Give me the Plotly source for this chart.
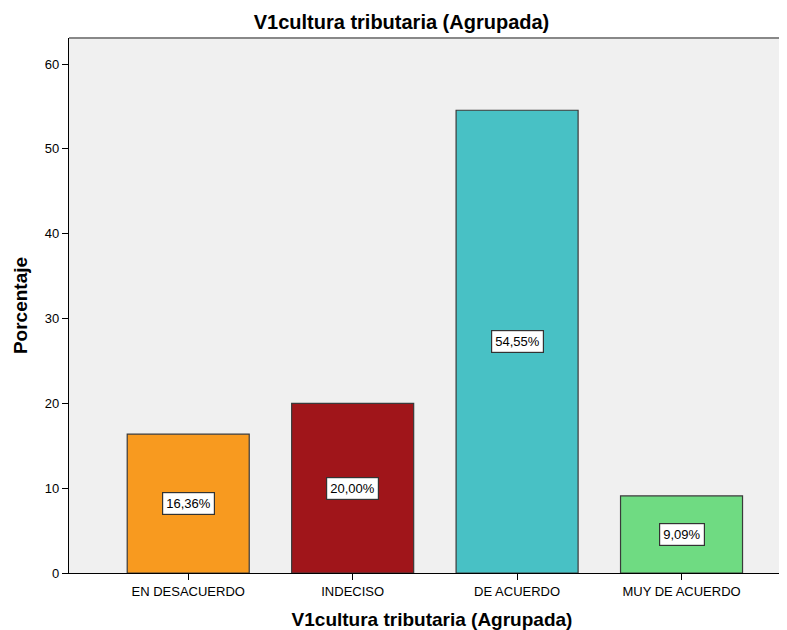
import plotly.graph_objects as go

categories = ["EN DESACUERDO", "INDECISO", "DE ACUERDO", "MUY DE ACUERDO"]
values = [16.36, 20.00, 54.55, 9.09]
labels = ["16,36%", "20,00%", "54,55%", "9,09%"]
colors = ["#F89A1F", "#A0151A", "#48C1C5", "#6FDB82"]
y_ticks = [0, 10, 20, 30, 40, 50, 60]

fig = go.Figure()
fig.add_trace(go.Bar(
    x=categories, y=values,
    marker=dict(color=colors, line=dict(color="#3a3a3a", width=1.2)),
    width=0.742, hoverinfo="skip",
))

for c, v, t in zip(categories, values, labels):
    fig.add_annotation(x=c, y=v / 2, text=t, showarrow=False,
                       bgcolor="white", bordercolor="#333333", borderwidth=1.2,
                       borderpad=3, font=dict(family="Liberation Sans, Arial", size=13, color="black"))

fig.update_layout(
    width=787, height=622,
    margin=dict(l=61, r=0, t=30, b=57),
    paper_bgcolor="white", plot_bgcolor="#F0F0F0",
    showlegend=False,
    font=dict(family="Liberation Sans, Arial", size=13, color="black"),
    title=dict(text="<b>V1cultura tributaria (Agrupada)</b>", x=0.5, xanchor="center",
               y=0.977, yanchor="middle", font=dict(size=20, color="black")),
    xaxis=dict(range=[-0.725, 3.69], showline=True, linecolor="black", linewidth=1.2,
               ticks="outside", ticklen=6, tickcolor="black", showgrid=False,
               title=dict(text="<b>V1cultura tributaria (Agrupada)</b>", font=dict(size=19), standoff=14),
               tickfont=dict(size=13)),
    yaxis=dict(range=[0, 63.07], tickvals=y_ticks, showline=True, linecolor="black", linewidth=1.2,
               ticks="outside", ticklen=6, tickcolor="black", showgrid=False, zeroline=False,
               title=dict(text="<b>Porcentaje</b>", font=dict(size=19), standoff=12),
               tickfont=dict(size=13)),
    shapes=[dict(type="line", xref="paper", yref="paper", x0=0, x1=1, y0=1, y1=1,
                 line=dict(color="#888888", width=2))],
)

fig.write_html("out.html")
